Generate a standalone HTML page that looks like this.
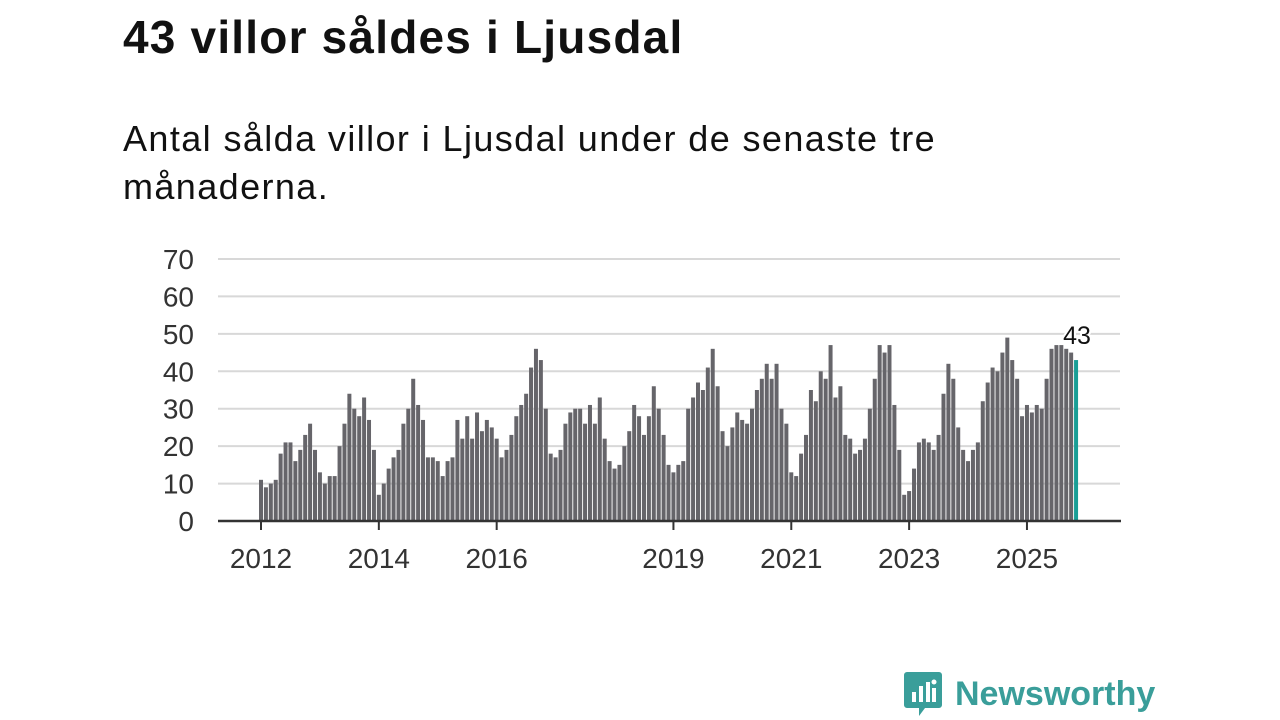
<!DOCTYPE html>
<html><head><meta charset="utf-8"><style>
body{margin:0;width:1280px;height:720px;background:#fff;font-family:"Liberation Sans",sans-serif;overflow:hidden;position:relative}
h1{position:absolute;left:123px;top:10px;margin:0;font-size:46px;letter-spacing:1.2px;font-weight:bold;color:#111}
.sub{position:absolute;left:123px;top:115px;margin:0;font-size:36px;letter-spacing:1.4px;line-height:48px;color:#111;width:840px}
</style></head><body>
<h1>43 villor såldes i Ljusdal</h1>
<p class="sub">Antal sålda villor i Ljusdal under de senaste tre månaderna.</p>
<svg id="chart" width="1280" height="720" style="position:absolute;left:0;top:0"></svg>
<div style="position:absolute;left:903px;top:670px;display:flex;align-items:center">
<svg width="40" height="48"><path d="M4 2h32a3 3 0 0 1 3 3v30a3 3 0 0 1-3 3H22l-6 8v-8H4a3 3 0 0 1-3-3V5a3 3 0 0 1 3-3z" fill="#3a9e9a"/><rect x="9" y="22" width="4" height="10" fill="#fff"/><rect x="16" y="16" width="4" height="16" fill="#fff"/><rect x="23" y="12" width="4" height="20" fill="#fff"/><circle cx="31" cy="12" r="2.5" fill="#fff"/><rect x="29" y="18" width="4" height="14" fill="#fff"/></svg>
<span style="font-size:34px;font-weight:bold;color:#3a9e9a;margin-left:12px">Newsworthy</span>
</div>
<script>
const values2012=[11,9,10,11,18,21,21,16,19,23,26,19];
const values2013=[13,10,12,12,20,26,34,30,28,33,27,19];
const values2014=[7,10,14,17,19,26,30,38,31,27,17,17];
const values2015=[16,12,16,17,27,22,28,22,29,24,27,25];
const values2016=[22,17,19,23,28,31,34,41,46,43,30,18];
const values2017=[17,19,26,29,30,30,26,31,26,33,22,16];
const values2018=[14,15,20,24,31,28,23,28,36,30,23,15];
const values2019=[13,15,16,30,33,37,35,41,46,36,24,20];
const values2020=[25,29,27,26,30,35,38,42,38,42,30,26];
const values2021=[13,12,18,23,35,32,40,38,47,33,36,23];
const values2022=[22,18,19,22,30,38,47,45,47,31,19,7];
const values2023=[8,14,21,22,21,19,23,34,42,38,25,19];
const values2024=[16,19,21,32,37,41,40,45,49,43,38,28];
const values2025=[31,29,31,30,38,46,47,47,46,45,43];
const yTicks=[0,10,20,30,40,50,60,70];
const xTickYears=[2012,2014,2016,2019,2021,2023,2025];
const startYear=2012;
const values=[].concat(values2012,values2013,values2014,values2015,values2016,values2017,values2018,values2019,values2020,values2021,values2022,values2023,values2024,values2025);
const svg=document.getElementById('chart');
const NS='http://www.w3.org/2000/svg';
const y=v=>521-v*(262/70);
const x=i=>261+i*4.91;
function mk(t,a){const e=document.createElementNS(NS,t);for(const k in a)e.setAttribute(k,a[k]);svg.appendChild(e);return e;}
yTicks.forEach(t=>{
  if(t>0){const l=mk('line',{x1:218,x2:1120,y1:y(t),y2:y(t),stroke:'#d8d8d8','stroke-width':2});
  
  }
  const tx=mk('text',{x:194,y:y(t)+10,'text-anchor':'end','font-size':28,fill:'#333','font-family':'Liberation Sans,sans-serif'});
  tx.textContent=t;
  
  
});
values.forEach((v,i)=>{
  const last=i===values.length-1;
  const r=mk('rect',{x:x(i)-2,y:y(v),width:4,height:521-y(v),fill:last?'#1a9e96':'#66656a'});
  
  
});
const ax=mk('line',{x1:218,x2:1121,y1:521,y2:521,stroke:'#333','stroke-width':2.5});


xTickYears.forEach(yr=>{
  const xi=x((yr-startYear)*12);
  const tk=mk('line',{x1:xi,x2:xi,y1:521,y2:530,stroke:'#333','stroke-width':2});
  
  
  const tx=mk('text',{x:xi,y:568,'text-anchor':'middle','font-size':28,fill:'#333','font-family':'Liberation Sans,sans-serif'});
  tx.textContent=yr;
  
  
});
const li=values.length-1;
const lab=mk('text',{x:x(li)+1,y:y(values[li])-16,'text-anchor':'middle','font-size':25,fill:'#111','font-family':'Liberation Sans,sans-serif',stroke:'#fff','stroke-width':4,'paint-order':'stroke'});
lab.textContent=values[li];


</script>
</body></html>
